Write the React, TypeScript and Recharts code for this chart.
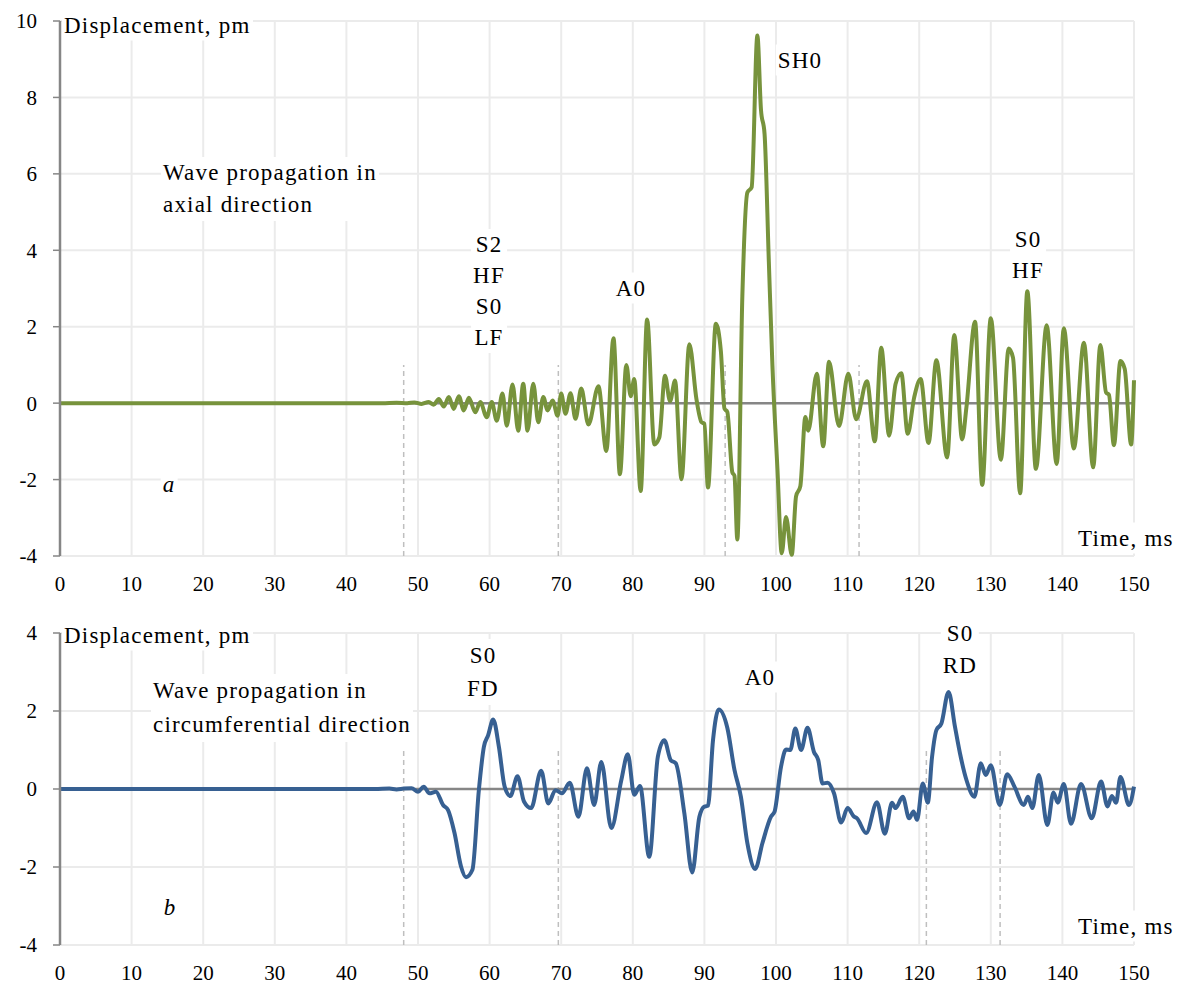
import { LineChart, Line, XAxis, YAxis, CartesianGrid, ReferenceLine } from "recharts";

const FONT = '"Liberation Serif", Tinos, "Times New Roman", Times, "DejaVu Serif", "Noto Serif", serif';

// time axis ticks (ms)
const timeTicks = [0, 10, 20, 30, 40, 50, 60, 70, 80, 90, 100, 110, 120, 130, 140, 150];

// (a) axial direction
const axialTime = [
  0, 45, 47, 48.5, 49.5, 50.5, 51.5, 52.2, 52.9, 53.6, 54.3, 55.0, 55.7, 56.4, 57.1, 58.0, 58.7, 59.6,
  60.3, 61.0, 61.8, 62.4, 63.2, 64.0, 64.7, 65.3, 66.1, 66.8, 67.5, 68.1, 68.8, 69.5, 70.0, 70.6,
  71.3, 72.0, 72.8, 73.8, 75.2, 76.3, 77.3, 78.2, 79.1, 79.7, 80.2, 81.1, 82.0, 83.0, 83.7, 84.5,
  85.2, 85.9, 86.8, 87.9, 88.9, 89.6, 90.0, 90.5, 91.6, 92.3, 92.8, 93.2, 93.9, 94.2, 94.6, 95.3,
  96.0, 96.6, 97.4, 97.9, 98.4, 99.0, 99.5, 100.2, 100.8, 101.4, 102.2, 102.8, 103.4, 104.1, 104.5,
  105.7, 106.6, 107.4, 108.8, 110.1, 111.2, 112.7, 113.8, 114.7, 115.8, 116.7, 117.5, 118.4, 119.3,
  120.2, 121.3, 122.4, 123.9, 124.9, 126.0, 126.6, 127.8, 128.8, 130.0, 131.4, 132.5, 133.1, 134.1,
  135.1, 136.3, 137.8, 139.2, 140.2, 141.6, 143.0, 144.3, 145.3, 146.1, 146.5, 147.2, 148.1, 148.7,
  149.6, 150,
];
const axialDisp = [
  0, 0, 0.01, 0, 0.02, -0.02, 0.03, -0.04, 0.11, -0.09, 0.16, -0.15, 0.18, -0.19, 0.14, -0.24, 0.03, -0.37,
  0.03, -0.46, 0.25, -0.59, 0.49, -0.72, 0.51, -0.72, 0.51, -0.5, 0.16, -0.19, 0.07, -0.33, 0.25, -0.28,
  0.26, -0.41, 0.38, -0.56, 0.44, -1.25, 1.7, -1.86, 1.0, 0.18, 0.63, -2.3, 2.19, -1.08, -0.9, 0.72,
  0.05, 0.59, -1.99, 1.54, 0.09, -0.5, -0.54, -2.21, 2.08, 1.36, -0.14, -0.23, -1.81, -1.9, -3.57, 2.8,
  5.51, 5.65, 9.62, 7.68, 7.05, 3.7, 0.99, -1.72, -3.93, -2.98, -3.97, -2.44, -2.17, -0.36, -0.72,
  0.77, -1.13, 1.08, -0.6, 0.77, -0.42, 0.57, -1.0, 1.45, -0.85, 0.5, 0.78, -0.8, 0.15,
  0.63, -1.04, 1.12, -1.42, 1.78, -0.95, -0.1, 2.13, -2.14, 2.22, -1.48, 1.43, 1.19, -2.36,
  2.93, -1.72, 2.04, -1.59, 1.96, -1.19, 1.58, -1.68, 1.52, 0.28, 0.22, -1.1, 1.1, 0.9,
  -1.08, 0.6,
];
const axialMarks = [48.0, 69.6, 92.9, 111.6];

// (b) circumferential direction
const circTime = [
  0, 44, 46, 47, 48, 49.1, 50.0, 50.8, 51.6, 52.5, 53.5, 54.2, 55.1, 56.0, 56.7, 57.6, 58.5, 59.2, 59.8,
  60.5, 61.3, 62.1, 62.9, 63.9, 64.8, 65.8, 67.2, 68.2, 69.2, 70.1, 71.2, 72.4, 73.6, 74.6, 75.6, 77.0,
  78.4, 79.3, 80.2, 81.0, 82.3, 83.5, 84.4, 85.3, 86.0, 87.2, 88.3, 89.3, 90.0, 90.5, 91.2, 92.0, 93.2,
  94.2, 95.1, 96.0, 97.1, 98.1, 99.3, 99.8, 100.7, 101.4, 102.0, 102.7, 103.5, 104.4, 105.3, 105.9,
  106.5, 107.2, 108.1, 109.1, 110.0, 110.9, 111.3, 112.6, 114.1, 115.2, 116.2, 116.7, 117.7, 118.6,
  119.2, 119.7, 120.5, 121.2, 121.8, 122.4, 123.1, 124.1, 125.0, 125.7, 126.6, 127.7, 128.6, 129.3,
  130.0, 131.25, 132.3, 133.3, 134.6, 135.2, 135.8, 136.7, 137.9, 138.75, 139.35, 140.2, 141.2, 142.6,
  144.1, 145.4, 146.3, 146.9, 147.5, 148.1, 149.3, 150,
];
const circDisp = [
  0, 0, 0.01, -0.01, 0.01, 0.02, -0.07, 0.06, -0.11, -0.07, -0.41, -0.54, -1.13, -1.98, -2.26, -2.07, -0.03, 1.08, 1.38,
  1.78, 1.08, 0.06, -0.18, 0.33, -0.32, -0.49, 0.47, -0.37, -0.03, -0.11, 0.16, -0.71, 0.53, -0.41, 0.69, -1.0,
  0.23, 0.89, -0.15, 0.08, -1.74, 0.83, 1.25, 0.74, 0.66, -0.62, -2.14, -0.71, -0.45, -0.43, 1.25, 2.04, 1.57,
  0.49, -0.2, -1.39, -2.05, -1.39, -0.71, -0.58, 0.57, 1.01, 1.0, 1.55, 1.0, 1.57, 0.95, 0.74,
  0.14, 0.16, -0.11, -0.86, -0.49, -0.71, -0.75, -1.13, -0.34, -1.15, -0.35, -0.49, -0.2, -0.75,
  -0.58, -0.79, 0.14, -0.35, 0.83, 1.51, 1.68, 2.49, 1.59, 0.91, 0.23, -0.2, 0.66, 0.36,
  0.61, -0.41, 0.38, 0.06, -0.41, -0.2, -0.49, 0.36, -0.92, -0.09, -0.35, 0.13, -0.89, 0.13,
  -0.75, 0.19, -0.45, -0.18, -0.35, 0.31, -0.41, 0.06,
];
const circMarks = [48.0, 69.6, 121.0, 131.3];

const axialData = axialTime.map((t, i) => ({ t, v: axialDisp[i] }));
const circData = circTime.map((t, i) => ({ t, v: circDisp[i] }));

const AXIS_GREY = "#868686";
const GRID = "#ebebeb";
const tickStyle = { fontSize: 21, fill: "#000", fontFamily: FONT };

type NoteProps = {
  x: number;
  y: number;
  lines: string[];
  left?: boolean;
  italic?: boolean;
  lh?: number;
};

function Note({ x, y, lines, left, italic, lh = 31 }: NoteProps) {
  return (
    <div
      style={{
        position: "absolute",
        left: x,
        top: y,
        transform: left ? "translate(0, -50%)" : "translate(-50%, -50%)",
        background: "#fff",
        fontFamily: FONT,
        fontSize: 23,
        letterSpacing: 1.2,
        lineHeight: `${lh}px`,
        textAlign: left ? "left" : "center",
        fontStyle: italic ? "italic" : "normal",
        whiteSpace: "pre",
        color: "#000",
        padding: "0 2px",
      }}
    >
      {lines.join("\n")}
    </div>
  );
}

type PanelProps = {
  data: { t: number; v: number }[];
  yTicks: number[];
  marks: number[];
  color: string;
  height: number;
  top: number;
};

function Panel({ data, yTicks, marks, color, height, top }: PanelProps) {
  const yMin = yTicks[0];
  const yMax = yTicks[yTicks.length - 1];
  return (
    <LineChart
      width={1184}
      height={height}
      data={data}
      margin={{ top, right: 50, bottom: 4, left: 0 }}
    >
      <CartesianGrid stroke={GRID} strokeWidth={2} />
      <XAxis
        dataKey="t"
        type="number"
        domain={[0, 150]}
        ticks={timeTicks}
        axisLine={false}
        tickLine={false}
        height={40}
        tickSize={6}
        tickMargin={14}
        tick={tickStyle}
        interval={0}
      />
      <YAxis
        type="number"
        domain={[yMin, yMax]}
        ticks={yTicks}
        width={60}
        interval={0}
        axisLine={{ stroke: AXIS_GREY, strokeWidth: 2.5 }}
        tickLine={{ stroke: AXIS_GREY, strokeWidth: 1.5 }}
        tickSize={7}
        tickMargin={16}
        tick={tickStyle}
      />
      {marks.map((m) => (
        <ReferenceLine
          key={m}
          segment={[
            { x: m, y: yMin },
            { x: m, y: 1 },
          ]}
          stroke="#bfbfbf"
          strokeWidth={1.5}
          strokeDasharray="5 4"
        />
      ))}
      <ReferenceLine y={0} stroke={AXIS_GREY} strokeWidth={2.5} />
      <Line
        type="monotone"
        dataKey="v"
        stroke={color}
        strokeWidth={4}
        dot={false}
        isAnimationActive={false}
      />
    </LineChart>
  );
}

export default function App() {
  return (
    <div
      style={{
        position: "absolute",
        left: 0,
        top: 0,
        width: 1184,
        height: 989,
        background: "#fff",
        overflow: "hidden",
      }}
    >
      <div style={{ position: "absolute", left: 0, top: 0 }}>
        <Panel
          data={axialData}
          yTicks={[-4, -2, 0, 2, 4, 6, 8, 10]}
          marks={axialMarks}
          color="#77933c"
          height={600}
          top={21}
        />
      </div>
      <div style={{ position: "absolute", left: 0, top: 600 }}>
        <Panel
          data={circData}
          yTicks={[-4, -2, 0, 2, 4]}
          marks={circMarks}
          color="#376092"
          height={389}
          top={33}
        />
      </div>

      {/* panel a */}
      <Note x={62} y={25} lines={["Displacement, pm"]} left />
      <Note x={161} y={189} lines={["Wave propagation in", "axial direction"]} left lh={32} />
      <Note x={489} y={291} lines={["S2", "HF", "S0", "LF"]} />
      <Note x={631} y={288} lines={["A0"]} />
      <Note x={800} y={60} lines={["SH0"]} />
      <Note x={1028} y={255} lines={["S0", "HF"]} />
      <Note x={169} y={484} lines={["a"]} italic />
      <Note x={1076} y={538} lines={["Time, ms"]} left />

      {/* panel b */}
      <Note x={62} y={635} lines={["Displacement, pm"]} left />
      <Note x={151} y={708} lines={["Wave propagation in", "circumferential direction"]} left lh={34} />
      <Note x={483} y={672} lines={["S0", "FD"]} lh={33} />
      <Note x={760} y={677} lines={["A0"]} />
      <Note x={960} y={650} lines={["S0", "RD"]} lh={32} />
      <Note x={170} y={907} lines={["b"]} italic />
      <Note x={1076} y={926} lines={["Time, ms"]} left />
    </div>
  );
}
